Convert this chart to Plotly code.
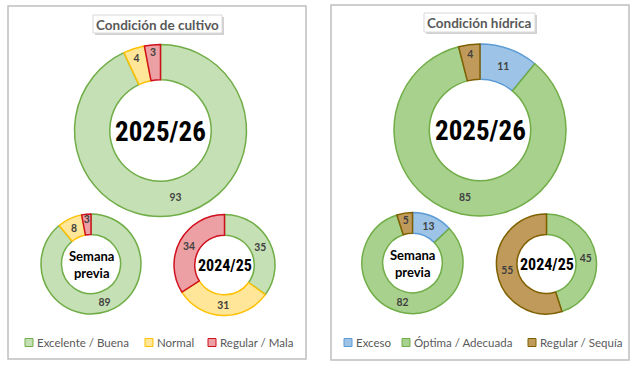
import plotly.graph_objects as go

# ---------------- data ----------------
cultivo_labels = ["Excelente / Buena", "Normal", "Regular / Mala"]
cultivo_2025 = [93, 4, 3]
cultivo_prev = [89, 8, 3]
cultivo_2024 = [35, 31, 34]

hidrica_labels = ["Exceso", "Óptima / Adecuada", "Regular / Sequía"]
hidrica_2025 = [11, 85, 4]
hidrica_prev = [13, 82, 5]
hidrica_2024 = [0, 45, 55]

panel_titles = ["Condición de cultivo", "Condición hídrica"]
center_big = "2025/26"
center_prev = "Semana<br>previa"
center_old = "2024/25"

# ---------------- styles ----------------
W, H = 640, 366
cult_fill = ["#C5E0B4", "#FFE699", "#EDA0A4"]
cult_line = ["#70AD47", "#FFC000", "#D0101E"]
hid_fill = ["#9DC3E6", "#A9D18E", "#C09A5B"]
hid_line = ["#5B9BD5", "#70AD47", "#7F6000"]

LABEL_FONT = dict(family="Lato, Open Sans, sans-serif", size=11, color="#404040", weight="bold")
TEXT_FONT = "Lato, Open Sans, sans-serif"
NARROW = "Liberation Sans Narrow, Roboto Condensed, DejaVu Sans Condensed, Roboto, sans-serif"


def dom(cx, cy, r):
    return dict(x=[(cx - r) / W, (cx + r) / W], y=[1 - (cy + r) / H, 1 - (cy - r) / H])


fig = go.Figure()

donuts = [
    (cultivo_labels, cultivo_2025, cult_fill, cult_line, (160.5, 130.5, 86)),
    (cultivo_labels, cultivo_prev, cult_fill, cult_line, (91, 264, 50)),
    (cultivo_labels, cultivo_2024, cult_fill, cult_line, (224.5, 265, 50.5)),
    (hidrica_labels, hidrica_2025, hid_fill, hid_line, (480, 130, 86)),
    (hidrica_labels, hidrica_prev, hid_fill, hid_line, (412.5, 263, 50.5)),
    (hidrica_labels, hidrica_2024, hid_fill, hid_line, (546.5, 264, 50)),
]
for labels, vals, fills, lines, (cx, cy, r) in donuts:
    fig.add_trace(go.Pie(
        labels=labels, values=vals, sort=False, direction="clockwise", rotation=0,
        hole=0.59, domain=dom(cx, cy, r),
        marker=dict(colors=fills, line=dict(color=lines, width=1.5)),
        texttemplate=[("%{value}" if v > 0 else "") for v in vals],
        textposition="inside", insidetextorientation="horizontal",
        textfont=LABEL_FONT, showlegend=False, hoverinfo="skip",
    ))

# hidden pixel axes for shapes/annotations
fig.update_xaxes(range=[0, W], visible=False, fixedrange=True)
fig.update_yaxes(range=[H, 0], visible=False, fixedrange=True)
fig.add_trace(go.Scatter(x=[0], y=[0], mode="markers", marker=dict(opacity=0), showlegend=False, hoverinfo="skip"))

shapes = []
annots = []
# panel borders
for (x0, y0, x1, y1) in [(8, 6, 306, 359), (331, 5, 629, 360)]:
    shapes.append(dict(type="rect", x0=x0, y0=y0, x1=x1, y1=y1, xref="x", yref="y",
                       line=dict(color="#BFBFBF", width=1.5), fillcolor="rgba(0,0,0,0)", layer="below"))

# title boxes with shadow
for title, (x0, y0, x1, y1) in zip(panel_titles, [(93, 15, 222, 33), (424, 13, 535, 32)]):
    shapes.append(dict(type="rect", x0=x0 + 2, y0=y0 + 2, x1=x1 + 2, y1=y1 + 2, xref="x", yref="y",
                       line=dict(width=0), fillcolor="rgba(0,0,0,0.18)"))
    shapes.append(dict(type="rect", x0=x0, y0=y0, x1=x1, y1=y1, xref="x", yref="y",
                       line=dict(color="#D9D9D9", width=1), fillcolor="white"))
    annots.append(dict(x=(x0 + x1) / 2, y=(y0 + y1) / 2 + 0.5, text=title, showarrow=False, xref="x", yref="y",
                       font=dict(family=TEXT_FONT, size=13.5, color="#595959", weight="bold")))

# center labels
for (cx, cy) in [(160.5, 132), (480, 131)]:
    annots.append(dict(x=cx, y=cy, text=f"<b>{center_big}</b>", showarrow=False, xref="x", yref="y",
                       font=dict(family=NARROW, size=27, color="#000000")))
for (cx, cy) in [(91, 264), (412.5, 263)]:
    annots.append(dict(x=cx, y=cy, text=f"<b>{center_prev}</b>", showarrow=False, xref="x", yref="y",
                       font=dict(family=TEXT_FONT, size=13, color="#000000")))
for (cx, cy) in [(224.5, 265), (546.5, 264)]:
    annots.append(dict(x=cx, y=cy, text=f"<b>{center_old}</b>", showarrow=False, xref="x", yref="y",
                       font=dict(family=NARROW, size=16, color="#000000")))

# legends
leg_x = [[25, 145, 208], [344, 402, 528]]
for labels, fills, lines, xs in [(cultivo_labels, cult_fill, cult_line, leg_x[0]),
                                 (hidrica_labels, hid_fill, hid_line, leg_x[1])]:
    for lab, f, l, x in zip(labels, fills, lines, xs):
        shapes.append(dict(type="rect", x0=x, y0=338.5, x1=x + 8, y1=346.5, xref="x", yref="y",
                           line=dict(color=l, width=1), fillcolor=f))
        annots.append(dict(x=x + 9.5, y=342.5, text=lab, showarrow=False, xref="x", yref="y",
                           xanchor="left", font=dict(family=TEXT_FONT, size=11.5, color="#595959")))

fig.update_layout(
    width=W, height=H, margin=dict(l=0, r=0, t=0, b=0),
    paper_bgcolor="white", plot_bgcolor="white",
    shapes=shapes, annotations=annots,
    uniformtext=dict(minsize=10, mode="show"),
)
fig.write_html("out.html", config={"displayModeBar": False},
               post_script="document.body.style.margin='0';document.body.style.padding='0';")
